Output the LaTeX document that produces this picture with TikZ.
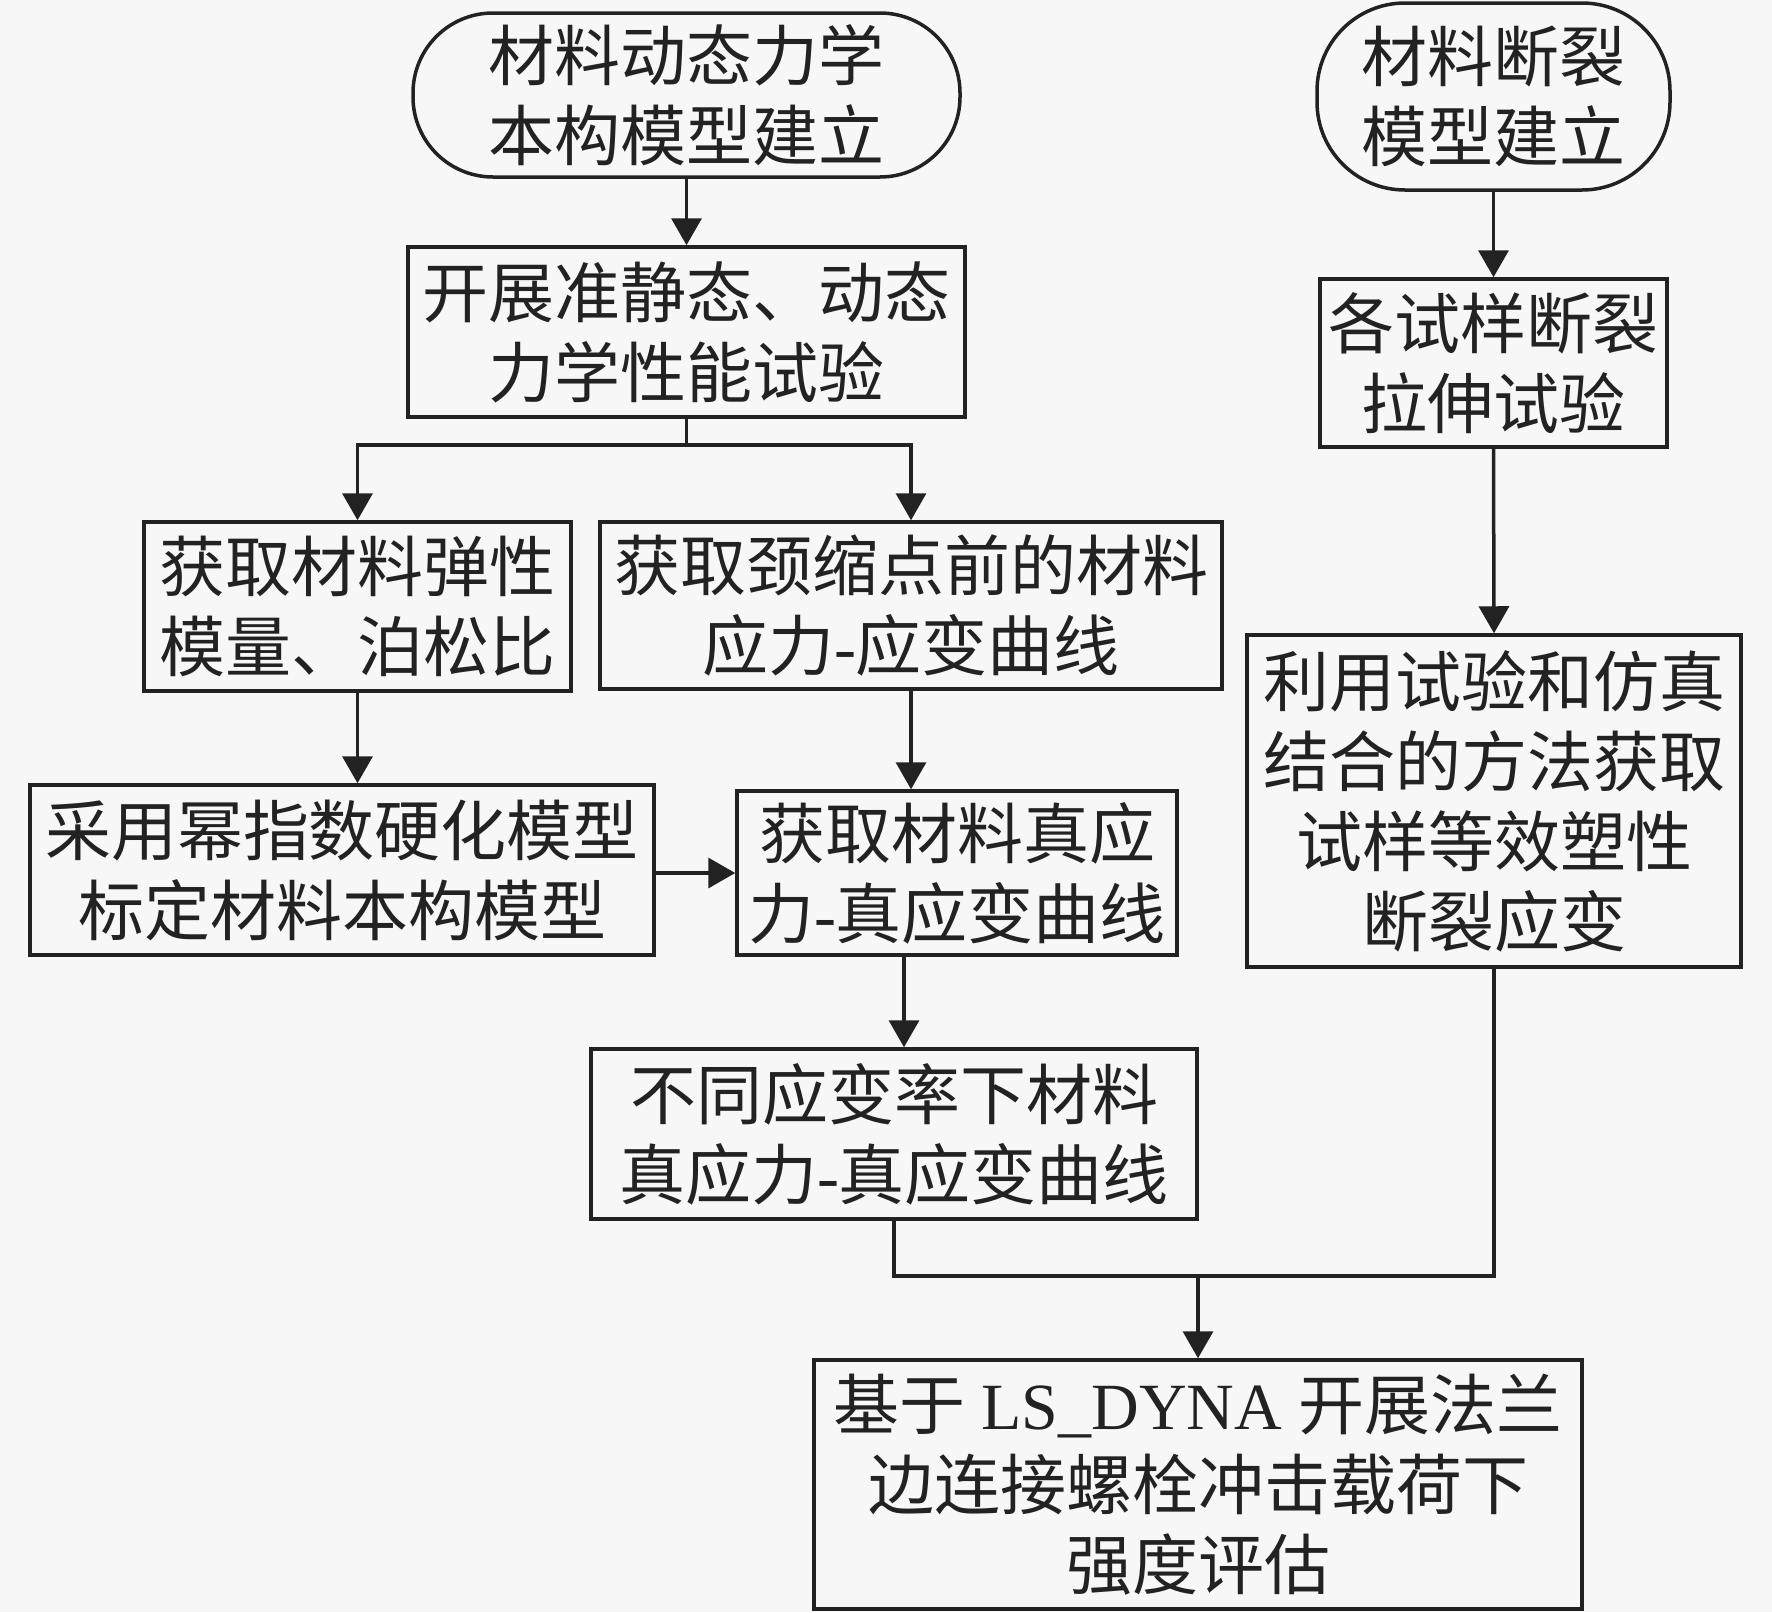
\documentclass[tikz,border=0pt]{standalone}
\usepackage{fontspec}
\setmainfont{Liberation Serif}
\newfontfamily\cjk{Noto Sans CJK SC}
\usetikzlibrary{arrows.meta,calc}
\definecolor{bgc}{RGB}{247,247,247}
\definecolor{inkc}{RGB}{34,34,34}
\begin{document}
\begin{tikzpicture}[x=1pt,y=-1pt,
  box/.style={draw=inkc,line width=3.5pt,inner sep=0pt,align=center,text=inkc,
    font=\cjk\fontsize{66pt}{80pt}\selectfont},
  roundbox/.style={box,rounded corners=#1},
  arr/.style={draw=inkc,line width=3.5pt,-{Triangle[length=27pt,width=30pt]}},
  ln/.style={draw=inkc,line width=3.5pt}]
\fill[bgc] (0,0) rectangle (1772,1612);
\useasboundingbox (0,0) rectangle (1772,1612);
\newcommand{\hy}{{\rmfamily -}}
% nodes
\node[roundbox=80pt,minimum width=547pt,minimum height=164pt] (b1) at (686.5,95) {材料动态力学\\本构模型建立};
\node[box,minimum width=557pt,minimum height=170pt] (b2) at (686.5,332) {开展准静态、动态\\力学性能试验};
\node[box,minimum width=427pt,minimum height=169pt] (b3) at (357.5,606.5) {获取材料弹性\\模量、泊松比};
\node[box,minimum width=622pt,minimum height=167pt] (b4) at (911,605.5) {获取颈缩点前的材料\\应力\hy 应变曲线};
\node[box,minimum width=624pt,minimum height=170pt] (b5) at (342,870) {采用幂指数硬化模型\\标定材料本构模型};
\node[box,minimum width=440pt,minimum height=164pt] (b6) at (957,873) {获取材料真应\\力\hy 真应变曲线};
\node[box,minimum width=606pt,minimum height=170pt] (b7) at (894,1134) {不同应变率下材料\\真应力\hy 真应变曲线};
\node[box,minimum width=768pt,minimum height=249pt] (b8) at (1198,1484.5) {基于{\rmfamily\ LS\_DYNA }开展法兰\\边连接螺栓冲击载荷下\\强度评估};
\node[roundbox=88pt,minimum width=353pt,minimum height=187pt] (b9) at (1493.5,96.5) {材料断裂\\模型建立};
\node[box,minimum width=347pt,minimum height=168pt] (b10) at (1493.5,363) {各试样断裂\\拉伸试验};
\node[box,minimum width=494pt,minimum height=332pt] (b11) at (1494,801) {利用试验和仿真\\结合的方法获取\\试样等效塑性\\断裂应变};
% connectors
\draw[arr] (b1.south) -- (b2.north);
\coordinate (j1) at ($(b2.south)+(0,26)$);
\draw[ln] (b2.south) -- (j1);
\draw[arr] (j1) -| (b3.north);
\draw[arr] (j1) -| (b4.north);
\draw[arr] (b3.south) -- (b3.south |- b5.north);
\draw[arr] (b4.south) -- (b4.south |- b6.north);
\draw[arr] (b6.west -| b5.east) -- (b6.west);
\draw[arr] ([xshift=-53pt]b6.south) -- ([xshift=-53pt]b6.south |- b7.north);
\coordinate (j2) at ($(b7.south)+(0,55)$);
\draw[ln] (b7.south) -- (j2) -| (b11.south);
\draw[arr] (j2 -| b8.north) -- (b8.north);
\draw[arr] (b9.south) -- (b10.north);
\draw[arr] (b10.south) -- (b11.north);
\end{tikzpicture}
\end{document}
